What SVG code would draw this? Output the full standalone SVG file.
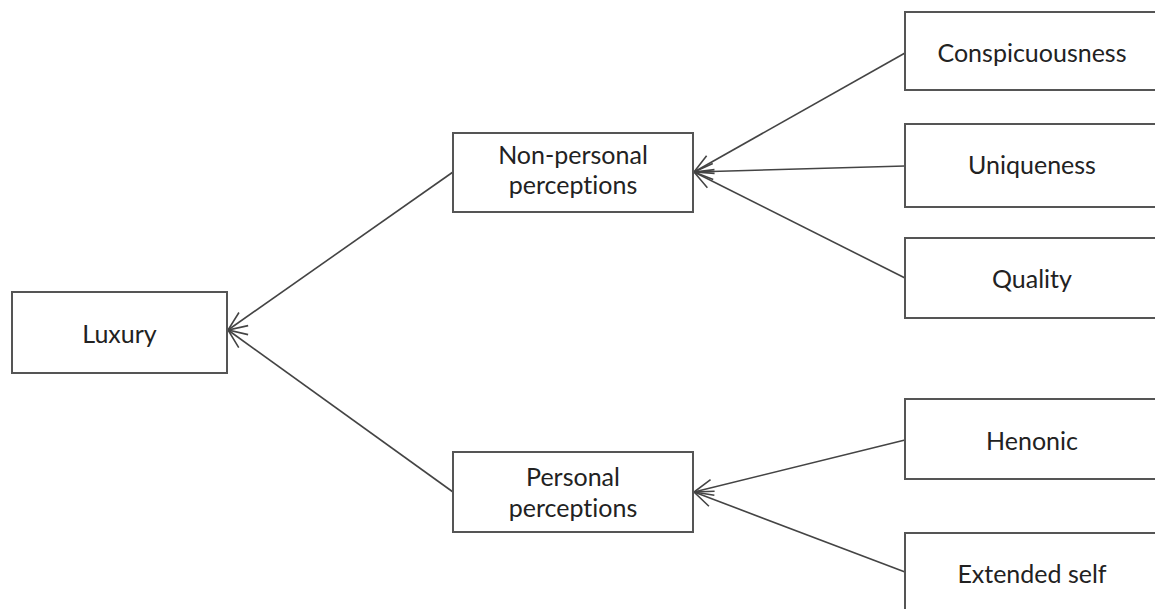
<svg xmlns="http://www.w3.org/2000/svg" width="1155" height="609" viewBox="0 0 1155 609">
  <defs>
    <style>
      .box { fill: #ffffff; stroke: #555555; stroke-width: 2; }
      .lbl { font-family: Lato, "Open Sans", sans-serif; font-size: 25px; fill: #222222; text-anchor: middle; font-variant-ligatures: none; }
      .edge { stroke: #444444; stroke-width: 1.6; fill: none; marker-end: url(#openArrow); }
    </style>
    <marker id="openArrow" viewBox="0 0 22 22" refX="21" refY="11" markerWidth="22" markerHeight="22" markerUnits="userSpaceOnUse" orient="auto">
      <path d="M2,3 L21,11 L2,19" fill="none" stroke="#444444" stroke-width="1.6"/>
    </marker>
  </defs>
  <rect width="1155" height="609" fill="#ffffff"/>

  <g id="connectors">
    <line class="edge" x1="905" y1="53" x2="694" y2="172"/>
    <line class="edge" x1="905" y1="166" x2="694" y2="172"/>
    <line class="edge" x1="905" y1="278" x2="694" y2="172"/>
    <line class="edge" x1="905" y1="440" x2="694" y2="492"/>
    <line class="edge" x1="905" y1="572" x2="694" y2="492"/>
    <line class="edge" x1="453" y1="172" x2="228" y2="330"/>
    <line class="edge" x1="453" y1="492" x2="228" y2="330"/>
  </g>

  <g id="luxury">
    <rect class="box" x="12" y="292" width="215" height="81"/>
    <text class="lbl" x="119.5" y="343">Luxury</text>
  </g>
  <g id="non-personal">
    <rect class="box" x="453" y="133" width="240" height="79"/>
    <text class="lbl" x="573" y="164">Non-personal</text>
    <text class="lbl" x="573" y="194">perceptions</text>
  </g>
  <g id="personal">
    <rect class="box" x="453" y="452" width="240" height="80"/>
    <text class="lbl" x="573" y="486">Personal</text>
    <text class="lbl" x="573" y="517">perceptions</text>
  </g>
  <g id="conspicuousness">
    <rect class="box" x="905" y="12" width="260" height="78"/>
    <text class="lbl" x="1032" y="62">Conspicuousness</text>
  </g>
  <g id="uniqueness">
    <rect class="box" x="905" y="124" width="260" height="83"/>
    <text class="lbl" x="1032" y="174">Uniqueness</text>
  </g>
  <g id="quality">
    <rect class="box" x="905" y="238" width="260" height="80"/>
    <text class="lbl" x="1032" y="288">Quality</text>
  </g>
  <g id="henonic">
    <rect class="box" x="905" y="399" width="260" height="80"/>
    <text class="lbl" x="1032" y="450">Henonic</text>
  </g>
  <g id="extended-self">
    <rect class="box" x="905" y="533" width="260" height="90"/>
    <text class="lbl" x="1032" y="583">Extended self</text>
  </g>
</svg>
